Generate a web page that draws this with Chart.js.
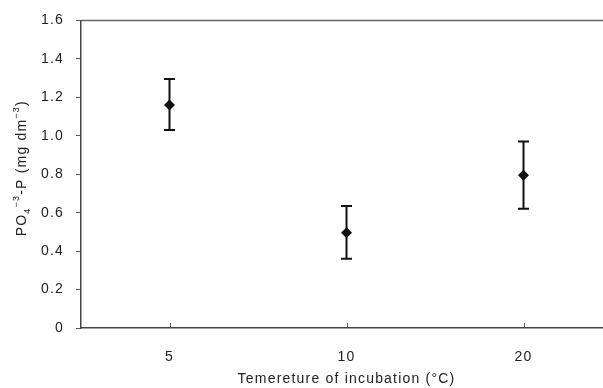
<!DOCTYPE html>
<html>
<head>
<meta charset="utf-8">
<script src="https://cdn.jsdelivr.net/npm/chart.js@4"></script>
<style>
  html, body { margin: 0; padding: 0; overflow: hidden; background: #fff; }
  #wrap { width: 620px; height: 388px; }
</style>
</head>
<body>
<div id="wrap"><canvas id="chart" width="620" height="388"></canvas></div>
<script>
// temperatures of incubation (categories)
var temps = ['5', '10', '20']
// mean PO4-P and error bar ends
var means = [1.16, 0.495, 0.795]
var lows = [1.03, 0.36, 0.62]
var highs = [1.295, 0.635, 0.97]
var yTicks = [0, 0.2, 0.4, 0.6, 0.8, 1.0, 1.2, 1.4, 1.6]

var fontFam = '"Liberation Sans", Arial, sans-serif'

var spacing = {
	id: 'spacing',
	beforeLayout: function(chart) { chart.ctx.letterSpacing = '1.2px' },
	beforeDraw: function(chart) { chart.ctx.letterSpacing = '1.2px' }
}

var extras = {
	id: 'extras',
	afterDraw: function(chart) {
		var ctx = chart.ctx
		var a = chart.chartArea
		var x = chart.scales.x
		var y = chart.scales.y
		ctx.save()
		// top frame line
		ctx.strokeStyle = '#666'
		ctx.lineWidth = 1.5
		ctx.beginPath()
		ctx.moveTo(a.left, a.top)
		ctx.lineTo(a.right, a.top)
		ctx.stroke()
		// inward x ticks
		ctx.strokeStyle = '#555'
		ctx.lineWidth = 1
		for (var i = 0; i < temps.length; i++) {
			var px = Math.round(x.getPixelForValue(i)) + 0.5
			ctx.beginPath()
			ctx.moveTo(px, a.bottom)
			ctx.lineTo(px, a.bottom - 5)
			ctx.stroke()
		}
		// error bars
		ctx.strokeStyle = '#111'
		ctx.lineWidth = 2
		for (var i = 0; i < temps.length; i++) {
			var cx = x.getPixelForValue(i)
			var yl = y.getPixelForValue(lows[i])
			var yh = y.getPixelForValue(highs[i])
			ctx.beginPath()
			ctx.moveTo(cx, yl)
			ctx.lineTo(cx, yh)
			ctx.moveTo(cx - 5.5, yl)
			ctx.lineTo(cx + 5.5, yl)
			ctx.moveTo(cx - 5.5, yh)
			ctx.lineTo(cx + 5.5, yh)
			ctx.stroke()
		}
		// markers on top
		ctx.fillStyle = '#111'
		for (var i = 0; i < temps.length; i++) {
			var cx = x.getPixelForValue(i)
			var cy = y.getPixelForValue(means[i])
			ctx.beginPath()
			ctx.moveTo(cx, cy - 5.5)
			ctx.lineTo(cx + 5.5, cy)
			ctx.lineTo(cx, cy + 5.5)
			ctx.lineTo(cx - 5.5, cy)
			ctx.closePath()
			ctx.fill()
		}
		// y axis title with sub/superscripts
		var parts = [
			['PO', 0, 14], ['4', 4, 9], ['\u2212', -7, 9], ['3', -7, 9],
			['-P (mg dm', 0, 14], ['\u2212', -7, 9], ['3', -7, 9], [')', 0, 14]
		]
		ctx.letterSpacing = '1.2px'
		var total = 0
		for (var i = 0; i < parts.length; i++) {
			ctx.font = parts[i][2] + 'px ' + fontFam
			total += ctx.measureText(parts[i][0]).width
		}
		ctx.translate(26, (a.top + a.bottom) / 2 - 6)
		ctx.rotate(-Math.PI / 2)
		ctx.fillStyle = '#222'
		ctx.textBaseline = 'alphabetic'
		var pos = -total / 2
		for (var i = 0; i < parts.length; i++) {
			ctx.font = parts[i][2] + 'px ' + fontFam
			ctx.fillText(parts[i][0], pos, parts[i][1])
			pos += ctx.measureText(parts[i][0]).width
		}
		ctx.restore()
	}
}

var ctx = document.getElementById('chart').getContext('2d')
var chart = new Chart(ctx, {
	type: 'line',
	data: {
		labels: temps,
		datasets: [{
			data: means,
			showLine: false,
			pointRadius: 0,
			borderColor: '#111',
			backgroundColor: '#111'
		}]
	},
	options: {
		responsive: false,
		animation: false,
		events: [],
		layout: { padding: { top: 18, left: 0, right: 8, bottom: 0 } },
		plugins: {
			legend: { display: false },
			tooltip: { enabled: false }
		},
		scales: {
			x: {
				offset: true,
				grid: { display: false, drawTicks: false },
				border: { color: '#444', width: 1.5 },
				ticks: {
					padding: 21,
					color: '#222',
					font: { family: fontFam, size: 14 }
				},
				title: {
					display: true,
					text: 'Temereture of incubation (\u00B0C)',
					color: '#222',
					padding: { top: 0, bottom: 0 },
					font: { family: fontFam, size: 14 }
				},
				afterFit: function(s) { s.height = 60 }
			},
			y: {
				min: 0,
				max: 1.6,
				afterBuildTicks: function(s) {
					s.ticks = yTicks.map(function(v) { return { value: v } })
				},
				grid: { drawOnChartArea: false, tickLength: 5, color: '#555' },
				border: { color: '#444', width: 1.5 },
				ticks: {
					padding: 12,
					color: '#222',
					font: { family: fontFam, size: 14 },
					callback: function(v) { return v === 0 ? '0' : v.toFixed(1) }
				},
				afterFit: function(s) { s.width = 81 }
			}
		}
	},
	plugins: [spacing, extras]
})
</script>
</body>
</html>
